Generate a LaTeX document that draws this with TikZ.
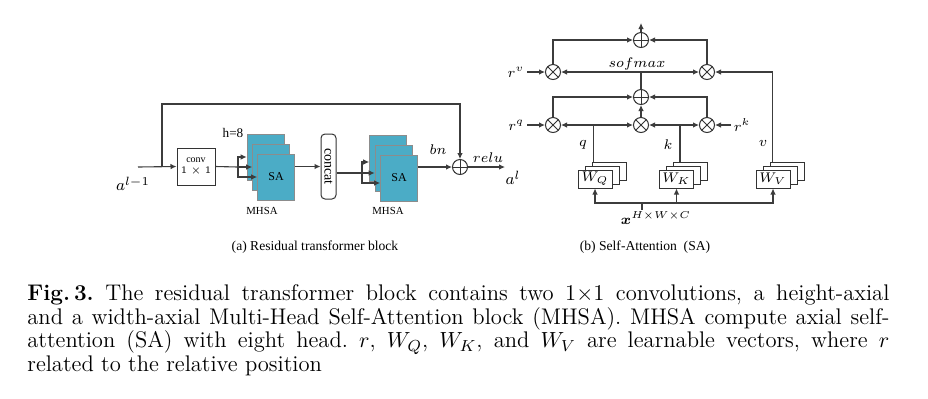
\documentclass[tikz,border=0pt]{standalone}
\usepackage{amsmath,amssymb,bm}
\usepackage{fontspec}
\newfontfamily\tnr{Liberation Serif}
\usetikzlibrary{arrows.meta, positioning, calc}

\definecolor{headfill}{HTML}{4BACC6}
\definecolor{wire}{RGB}{60,60,60}

\begin{document}
\begin{tikzpicture}[x=0.5pt, y=-0.5pt,
        wire/.style={draw=wire, line width=0.55pt},
        arrow/.style={wire, -{Latex[length=3pt, width=2.8pt]}},
        twoway/.style={wire, {Latex[length=3pt, width=2.8pt]}-{Latex[length=3pt, width=2.8pt]}},
        head/.style={draw=gray!90, line width=0.3pt, fill=headfill, minimum width=18.5pt, minimum height=23pt, inner sep=0pt},
        convbox/.style={draw=black!80, line width=0.5pt, fill=white, minimum width=19pt, minimum height=18.5pt, inner sep=0pt, align=center, font=\tnr\fontsize{5}{6.5}\selectfont},
        wbox/.style={draw=black!80, line width=0.5pt, fill=white, minimum width=17pt, minimum height=9pt, inner sep=0pt, font=\fontsize{7}{8}\selectfont},
        oplus/.style={circle, draw=black!80, line width=0.5pt, fill=white, minimum size=7.5pt, inner sep=0pt,
            path picture={\draw[black!80, line width=0.5pt] (path picture bounding box.north) -- (path picture bounding box.south) (path picture bounding box.west) -- (path picture bounding box.east);}},
        otimes/.style={circle, draw=black!80, line width=0.5pt, fill=white, minimum size=7.5pt, inner sep=0pt,
            path picture={\draw[black!80, line width=0.5pt] (path picture bounding box.north east) -- (path picture bounding box.south west) (path picture bounding box.north west) -- (path picture bounding box.south east);}},
        label/.style={font=\tnr\fontsize{5.4}{6.5}\selectfont, inner sep=0pt},
        mlabel/.style={font=\fontsize{7.4}{9}\selectfont, inner sep=0pt}
    ]
    \useasboundingbox[fill=white] (0,0) rectangle (928,398);

    % (a) residual transformer block
    \coordinate (in) at (138,167);
    \coordinate (fork) at (162,167);
    \node[convbox] (conv) at (196,166.5) {conv\\[-1pt]$1\times1$};
    \node[head] (a1) at (265.5,157) {};
    \node[head] (a2) at (271,167) {};
    \node[head] (a3) at (276,177) {\tnr\fontsize{6}{7}\selectfont SA};
    \node[draw=black!80, line width=0.5pt, rounded corners=2pt, minimum width=7.5pt, minimum height=32.5pt, inner sep=0pt] (concat) at (328.5,166.5) {};
    \node[label, rotate=-90, font=\tnr\fontsize{7}{8}\selectfont] at (concat) {concat};
    \node[head] (b1) at (388,158) {};
    \node[head] (b2) at (393.5,168) {};
    \node[head] (b3) at (399,178) {\tnr\fontsize{6}{7}\selectfont SA};
    \node[oplus] (sum) at (460,167) {};
    \coordinate (out) at (505,167);
    \coordinate (split1) at (238,167);
    \coordinate (split2) at (362,173);

    \node[label, font=\tnr\fontsize{6.6}{8}\selectfont] at (233,133) {h=8};
    \node[label] at (262,211) {MHSA};
    \node[label] at (388,211) {MHSA};
    \node[mlabel, font=\fontsize{8}{9}\selectfont] at (133,184) {$a^{l-1}$};
    \node[mlabel, font=\fontsize{6.6}{8}\selectfont] at (438,150) {$bn$};
    \node[mlabel, font=\fontsize{6.6}{8}\selectfont] at (488,158) {$relu$};
    \node[mlabel, font=\fontsize{8}{9}\selectfont] at (513,178) {$a^{l}$};

    \draw[arrow] (in) -- (conv.west);
    \draw[arrow] (fork) -- ++(0,-63) -| (sum.north);
    \draw[wire] (conv.east) -- (split1);
    \draw[arrow] (split1) |- (a1.west);
    \draw[arrow] (split1) -- (a2.west);
    \draw[arrow] (split1) |- (a3.west);
    \draw[arrow] (a3.east |- concat.west) -- (concat.west);
    \draw[wire] (concat.east |- split2) -- (split2);
    \draw[arrow] (split2) |- ([yshift=-2pt]b1.west);
    \draw[arrow] (split2) -- ([yshift=-2.5pt]b2.west);
    \draw[arrow] (split2) |- ([yshift=-2.5pt]b3.west);
    \draw[arrow] (b3.east |- sum.west) -- (sum.west);
    \draw[arrow] (sum.east) -- (out);

    % (b) self-attention
    \node[oplus] (tsum) at (641,40) {};
    \node[otimes] (vl) at (553,72) {};
    \node[otimes] (vr) at (707,72) {};
    \node[oplus] (msum) at (641,97) {};
    \node[otimes] (ml) at (553,125) {};
    \node[otimes] (mm) at (641,125) {};
    \node[otimes] (mr) at (707,125) {};
    \coordinate (top) at (641,23);
    \coordinate (rv) at (527,72);
    \coordinate (rq) at (527,125);
    \coordinate (rk) at (731,125);

    \node[wbox] (wq3) at (609,171) {};
    \node[wbox] (wq2) at (602,175) {};
    \node[wbox] (wq) at (595,179) {$W_Q$};
    \node[wbox] (wk3) at (690.5,171) {};
    \node[wbox] (wk2) at (683.5,175) {};
    \node[wbox] (wk) at (676.5,179) {$W_K$};
    \node[wbox] (wv3) at (787,171) {};
    \node[wbox] (wv2) at (780,175) {};
    \node[wbox] (wv) at (773,179) {$W_V$};
    \coordinate (xin) at (642,203);

    \node[mlabel, anchor=east] at (rv) {$r^{v}$\,};
    \node[mlabel, anchor=east] at (rq) {$r^{q}$\,};
    \node[mlabel, anchor=west] at (rk) {\,$r^{k}$};
    \node[mlabel, font=\fontsize{7.2}{8}\selectfont] at (637,64) {$sofmax$};
    \node[mlabel] at (583,145) {$q$};
    \node[mlabel] at (668,145) {$k$};
    \node[mlabel] at (763,143) {$v$};
    \node[mlabel, font=\fontsize{6.6}{8}\selectfont] at (656,218) {$\bm{x}^{H\times W\times C}$};

    \draw[arrow] (tsum.north) -- (top);
    \draw[arrow] (vl.north) |- (tsum.west);
    \draw[arrow] (vr.north) |- (tsum.east);
    \draw[arrow] (rv) -- (vl.west);
    \draw[twoway] (vl.east) -- (vr.west);
    \draw[wire] (msum.north) -- (msum.north |- vl.east);
    \draw[arrow] (ml.north) |- (msum.west);
    \draw[arrow] (mr.north) |- (msum.east);
    \draw[arrow] (mm.north) -- (msum.south);
    \draw[arrow] (rq) -- (ml.west);
    \draw[arrow] (rk) -- (mr.east);
    \draw[twoway] (ml.east) -- (mm.west);
    \draw[twoway] (mm.east) -- (mr.west);
    \draw[wire] ([xshift=1pt]wq3.north west) -- ([xshift=1pt]wq3.north west |- ml.east);
    \draw[wire] ([xshift=3.5pt]wk3.north west) -- ([xshift=3.5pt]wk3.north west |- mm.east);
    \draw[arrow] ([xshift=1.5pt]wv3.north west) |- (vr.east);
    \draw[wire] (xin) -- ++(0,7);
    \draw[arrow] (xin) -| (wq.south);
    \draw[arrow] (xin) -| (wk.south);
    \draw[arrow] (xin) -| (wv.south);

    % sub-captions
    \node[label, font=\tnr\fontsize{6.8}{8}\selectfont] at (315,247) {(a) Residual transformer block};
    \node[label, font=\tnr\fontsize{6.8}{8}\selectfont] at (645,247) {(b) Self-Attention\ \ (SA)};

    % figure caption
    \node[anchor=north west, inner sep=0pt, text width=431pt, align=justify, font=\fontsize{11.3}{11.9}\selectfont\frenchspacing] (caption) at (27,284) {\textbf{Fig.\,3.} The residual transformer block contains two 1$\times$1 convolutions, a height-axial\linebreak and a width-axial Multi-Head Self-Attention block (MHSA). MHSA compute axial self-\linebreak attention (SA) with eight head. $r$, $W_Q$, $W_K$, and $W_V$ are learnable vectors, where $r$\linebreak related to the relative position};
\end{tikzpicture}
\end{document}
